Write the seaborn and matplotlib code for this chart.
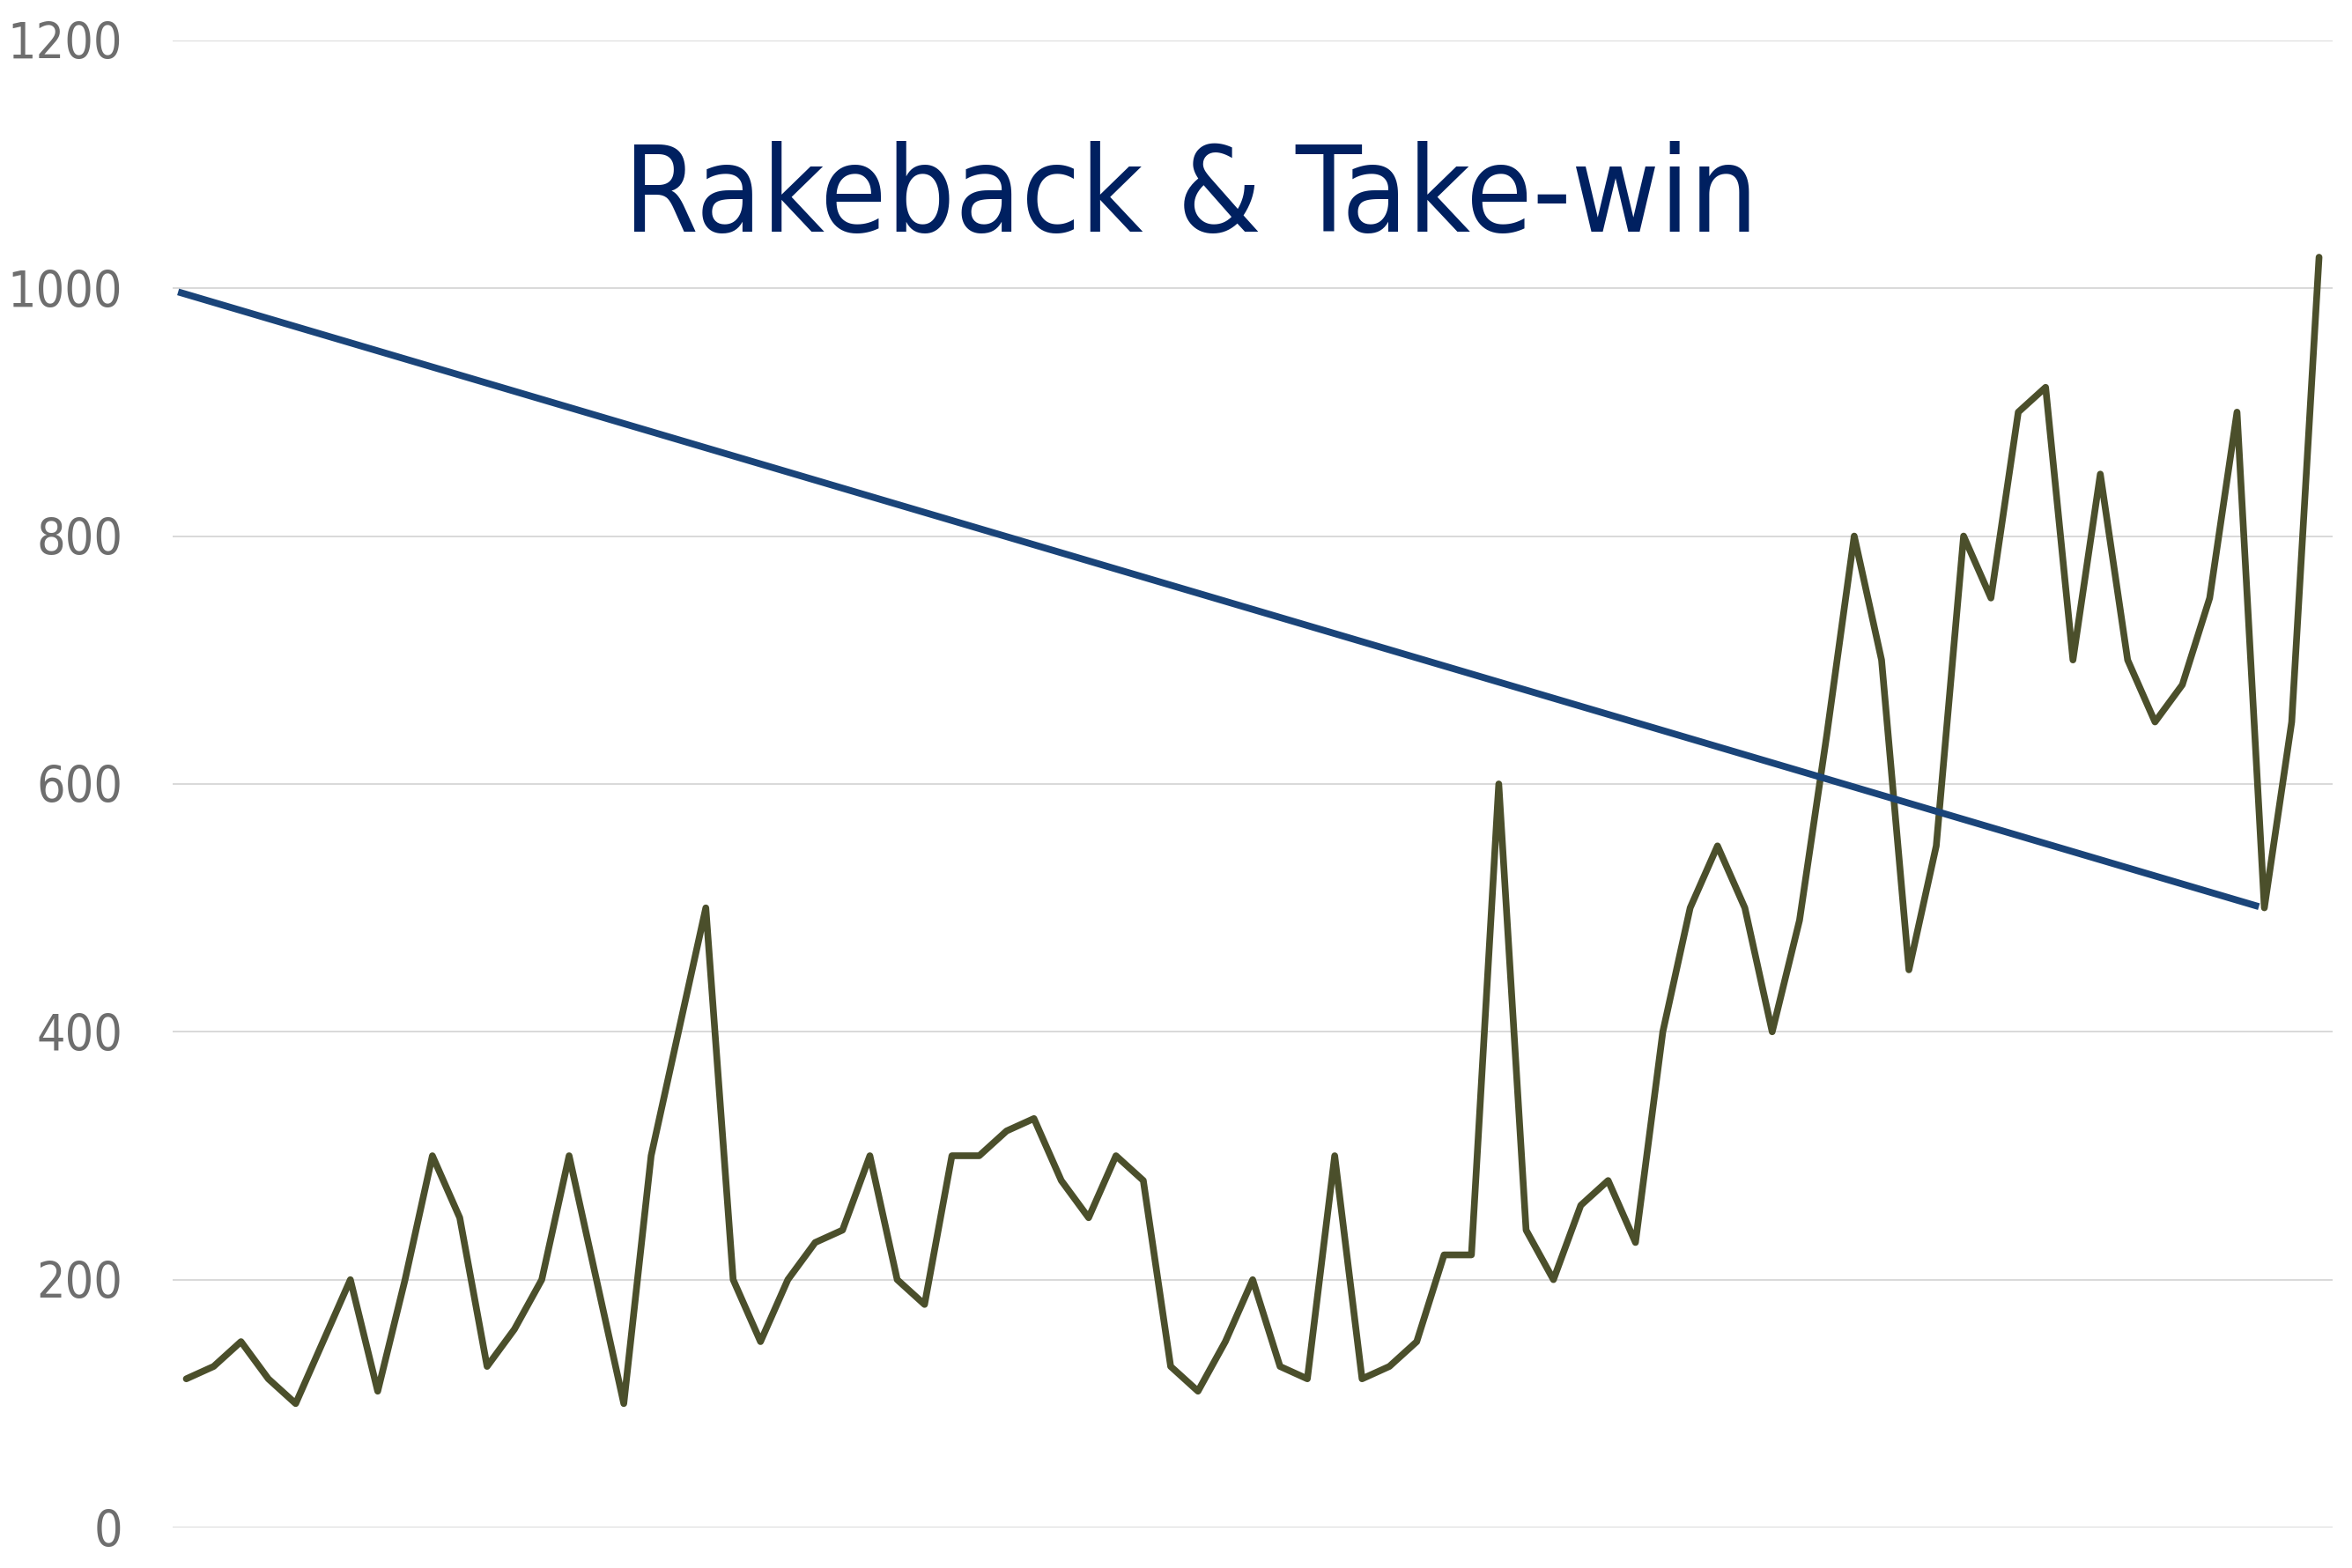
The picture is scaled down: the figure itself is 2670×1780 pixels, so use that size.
import matplotlib
matplotlib.use("Agg")
import matplotlib.pyplot as plt
import seaborn as sns

# ----------------------
# data
# ----------------------
title = "Rakeback & Take-win"

take_win = [
    120, 130, 150, 120, 100, 150, 200, 110, 200, 300,
    250, 130, 160, 200, 300, 200, 100, 300, 400, 500,
    200, 150, 200, 230, 240, 300, 200, 180, 300, 300,
    320, 330, 280, 250, 300, 280, 130, 110, 150, 200,
    130, 120, 300, 120, 130, 150, 220, 220, 600, 240,
    200, 260, 280, 230, 400, 500, 550, 500, 400, 490,
    640, 800, 700, 450, 550, 800, 750, 900, 920, 700,
    850, 700, 650, 680, 750, 900, 500, 650, 1025,
]
periods = list(range(len(take_win)))

# rakeback line: start / end points
rakeback_x = [-0.3, 75.8]
rakeback_y = [997, 501]

y_ticks = [0, 200, 400, 600, 800, 1000, 1200]

# ----------------------
# style
# ----------------------
sns.set_theme(style="white")
plt.rcParams["font.family"] = ["DejaVu Sans"]

fig = plt.figure(figsize=(26.7, 17.8), dpi=100)
ax = fig.add_axes([0.0734, 0.0258, 0.9184, 0.9485])

sns.lineplot(x=periods, y=take_win, ax=ax, color="#4b4f2b", linewidth=5.5,
             solid_joinstyle="round", solid_capstyle="round", zorder=3)
sns.lineplot(x=rakeback_x, y=rakeback_y, ax=ax, color="#1a4479", linewidth=5.6,
             solid_capstyle="butt", zorder=4)

ax.set_xlim(-0.5, len(take_win) - 0.5)
ax.set_ylim(0, 1200)
ax.set_yticks(y_ticks)
ax.set_xticks([])
ax.set_xlabel("")
ax.set_ylabel("")

ax.yaxis.grid(True, color="#d9d9d9", linewidth=1.4)
ax.set_axisbelow(True)
for s in ax.spines.values():
    s.set_visible(False)
ax.tick_params(axis="y", length=0, pad=41, labelsize=41, labelcolor="#6e6e6e")
for lab in ax.get_yticklabels():
    lab.set_fontstretch("condensed")

fig.text(0.5064, 0.8524, title, ha="center", va="baseline", fontsize=98,
         color="#002060", fontstretch="condensed")

fig.savefig("out.png", dpi=100)
